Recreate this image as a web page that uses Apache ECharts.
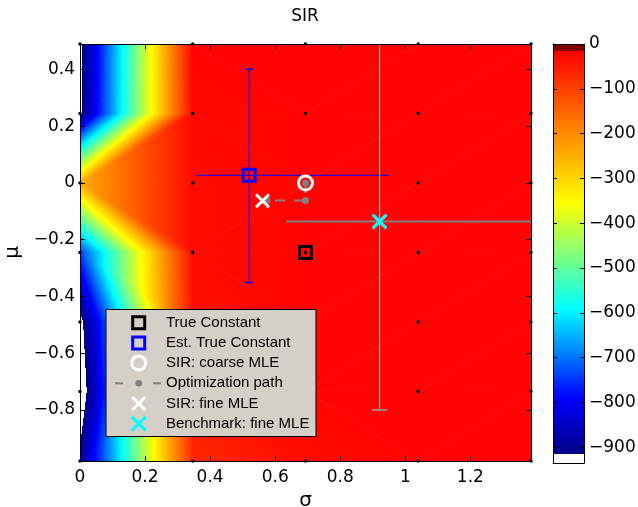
<!DOCTYPE html>
<html><head><meta charset="utf-8">
<script src="https://cdn.jsdelivr.net/npm/echarts@6/dist/echarts.min.js"></script>
<style>html,body{margin:0;padding:0;background:#fff}#c{width:638px;height:507px}</style>
</head><body><div id="c"></div>
<script>
// ---------------- data ----------------
const sigmaNodes = [0, 0.3466, 0.6931, 1.0397, 1.3863];
const muNodes = [0.49, 0.245, 0, -0.245, -0.49, -0.735, -0.98];
// log-likelihood at grid nodes; one row per mu (top to bottom), columns follow sigmaNodes
const logLikMu049  = [-932, -20, -20, -20, -20];
const logLikMu0245 = [-928, -24, -20, -20, -20];
const logLikMu0    = [-245, -28, -20, -20, -20];
const logLikMuM0245= [-745, -28, -20, -20, -20];
const logLikMuM049 = [-940, -38, -20, -20, -20];
const logLikMuM0735= [-970, -50, -20, -20, -20];
const logLikMuM098 = [-900, -70, -30, -20, -20];
const logLik = [logLikMu049, logLikMu0245, logLikMu0, logLikMuM0245, logLikMuM049, logLikMuM0735, logLikMuM098];

const xTicks = [0, 0.2, 0.4, 0.6, 0.8, 1, 1.2];
const yTicks = [-0.8, -0.6, -0.4, -0.2, 0, 0.2, 0.4];
const cbarTicks = [-900, -800, -700, -600, -500, -400, -300, -200, -100, 0];
const cbarMin = -935, cbarMax = 0;

const trueConstant = [0.6931, -0.245];
const estTrueConstant = [0.52, 0.027];
const estSigmaRange = [0.357, 0.951];
const estMuRange = [-0.351, 0.401];
const coarseMLE = [0.6931, 0];
const pathSigma = [0.6931, 0.6931, 0.574];
const pathMu = [0, -0.062, -0.062];
const fineMLE = [0.561, -0.063];
const benchMLE = [0.921, -0.136];
const benchSigmaRange = [0.634, 1.6];
const benchMuRange = [-0.80, 0.6];

const legendLabels = ['True Constant', 'Est. True Constant', 'SIR: coarse MLE', 'Optimization path', 'SIR: fine MLE', 'Benchmark: fine MLE'];

// ---------------- colormap (style) ----------------
const cmapLevels = [-915, -790, -590, -355, -15];
const cmapColors = ['#000085', '#0000ff', '#00ffff', '#ffff00', '#ff0000'];
const underColor = '#ffffff', overColor = '#800000';

function hex2rgb(h) { return [parseInt(h.slice(1,3),16), parseInt(h.slice(3,5),16), parseInt(h.slice(5,7),16)]; }
function colorAt(v) {
  const L = cmapLevels;
  if (v < L[0]) return underColor;
  if (v > L[L.length-1]) return overColor;
  for (let i = 0; i < L.length - 1; i++) {
    if (v >= L[i] && v <= L[i+1]) {
      const t = (v - L[i]) / (L[i+1] - L[i]);
      const a = hex2rgb(cmapColors[i]), b = hex2rgb(cmapColors[i+1]);
      return 'rgb(' + a.map((x, k) => Math.round(x + (b[k] - x) * t)).join(',') + ')';
    }
  }
  return cmapColors[L.length-1];
}
function stopsFor(lo, hi) {
  const L = cmapLevels, n = L.length;
  const t = v => (hi === lo ? 0 : (v - lo) / (hi - lo));
  const s = [{offset: 0, color: colorAt(lo)}];
  for (let i = 0; i < n; i++) {
    const b = L[i];
    if (b > lo && b < hi) {
      if (i === 0) { s.push({offset: t(b), color: underColor}); s.push({offset: t(b), color: cmapColors[0]}); }
      else if (i === n-1) { s.push({offset: t(b), color: cmapColors[n-1]}); s.push({offset: t(b), color: overColor}); }
      else s.push({offset: t(b), color: cmapColors[i]});
    }
  }
  s.push({offset: 1, color: colorAt(hi)});
  return s;
}
function triFill(p, v) {
  const d1x = p[1][0]-p[0][0], d1y = p[1][1]-p[0][1], d2x = p[2][0]-p[0][0], d2y = p[2][1]-p[0][1];
  const dv1 = v[1]-v[0], dv2 = v[2]-v[0];
  const det = d1x*d2y - d1y*d2x;
  const lo = Math.min(...v), hi = Math.max(...v);
  if (Math.abs(det) < 1e-9 || hi - lo < 1e-9) return colorAt((lo+hi)/2);
  const a = (dv1*d2y - dv2*d1y)/det, b = (d1x*dv2 - d2x*dv1)/det;
  const g = Math.hypot(a, b);
  if (g < 1e-12) return colorAt((lo+hi)/2);
  const ux = a/g, uy = b/g, s0 = (lo - v[0])/g, s1 = (hi - v[0])/g;
  return {type: 'linear', x: p[0][0]+ux*s0, y: p[0][1]+uy*s0, x2: p[0][0]+ux*s1, y2: p[0][1]+uy*s1, global: true, colorStops: stopsFor(lo, hi)};
}
// grow a triangle slightly so that neighbours overlap (hides anti-aliasing seams)
function grow(p, e) {
  const cx = (p[0][0]+p[1][0]+p[2][0])/3, cy = (p[0][1]+p[1][1]+p[2][1])/3;
  return p.map(([x, y]) => { const dx = x-cx, dy = y-cy, d = Math.hypot(dx, dy) || 1; return [x + dx/d*e, y + dy/d*e]; });
}

// ---------------- series data built from arrays ----------------
const cells = [];
for (let r = 0; r < muNodes.length - 1; r++)
  for (let c = 0; c < sigmaNodes.length - 1; c++)
    cells.push([sigmaNodes[c], muNodes[r], c, r]);
const nodes = [];
muNodes.forEach(m => sigmaNodes.forEach(s => nodes.push([s, m])));
const pathData = pathSigma.map((s, i) => [s, pathMu[i]]);

function fmt(v) { v = +(+v).toFixed(4); return (v < 0 ? '\u2212' : '') + String(Math.abs(v)); }

const tickFont = {fontFamily: 'DejaVu Sans', fontSize: 17, color: '#000'};

function errRender(st) {
  return function (params, api) {
    const cs = params.coordSys;
    const cx = v => Math.max(cs.x, Math.min(cs.x + cs.width, v));
    const cy = v => Math.max(cs.y, Math.min(cs.y + cs.height, v));
    const inside = p => p[0] >= cs.x - 0.5 && p[0] <= cs.x + cs.width + 0.5 && p[1] >= cs.y - 0.5 && p[1] <= cs.y + cs.height + 0.5;
    const x = api.value(0), y = api.value(1);
    const c = api.coord([x, y]);
    const vlo = api.coord([x, api.value(4)]), vhi = api.coord([x, api.value(5)]);
    const hlo = api.coord([api.value(2), y]), hhi = api.coord([api.value(3), y]);
    const ch = [];
    ch.push({type: 'line', shape: {x1: c[0], y1: cy(vlo[1]), x2: c[0], y2: cy(vhi[1])}, style: {stroke: st.vColor, lineWidth: st.vWidth}});
    ch.push({type: 'line', shape: {x1: cx(hlo[0]), y1: c[1], x2: cx(hhi[0]), y2: c[1]}, style: {stroke: st.hColor, lineWidth: st.hWidth}});
    [vlo, vhi].forEach(p => { if (st.cap > 0 && inside(p)) ch.push({type: 'line', shape: {x1: p[0]-st.cap, y1: p[1], x2: p[0]+st.cap, y2: p[1]}, style: {stroke: st.capColor, lineWidth: st.capWidth}}); });
    return {type: 'group', children: ch};
  };
}

const xPath = 'path://M0,14L14,0L50,36L86,0L100,14L64,50L100,86L86,100L50,64L14,100L0,86L36,50Z';
function xPoly(cx, cy, size) {
  const b = [[0,14],[14,0],[50,36],[86,0],[100,14],[64,50],[100,86],[86,100],[50,64],[14,100],[0,86],[36,50]];
  return b.map(([a, c]) => [cx + (a - 50) * size / 100, cy + (c - 50) * size / 100]);
}

// ---------------- legend graphics ----------------
const lgX = 106, lgY = 309.5, lgW = 210, lgH = 127, rowY0 = 322.7, rowDy = 20.2, iconX = 138.7, textX = 166;
const LZ = 100;
const lg = [{type: 'rect', z: LZ, shape: {x: lgX, y: lgY, width: lgW, height: lgH}, style: {fill: '#d4d0c8', stroke: '#000', lineWidth: 1}}];
const ry = i => rowY0 + i * rowDy;
lg.push({type: 'rect', z: LZ+1, shape: {x: iconX-6, y: ry(0)-6, width: 12, height: 12}, style: {fill: 'none', stroke: '#000', lineWidth: 3}});
lg.push({type: 'rect', z: LZ+1, shape: {x: iconX-6, y: ry(1)-6, width: 12, height: 12}, style: {fill: 'none', stroke: '#0000ff', lineWidth: 3}});
lg.push({type: 'circle', z: LZ+1, shape: {cx: iconX, cy: ry(2), r: 7}, style: {fill: 'none', stroke: '#fff', lineWidth: 3}});
lg.push({type: 'line', z: LZ+1, shape: {x1: 115, y1: ry(3), x2: 123, y2: ry(3)}, style: {stroke: '#808080', lineWidth: 2}});
lg.push({type: 'line', z: LZ+1, shape: {x1: 153, y1: ry(3), x2: 161, y2: ry(3)}, style: {stroke: '#808080', lineWidth: 2}});
lg.push({type: 'circle', z: LZ+1, shape: {cx: iconX, cy: ry(3), r: 3.3}, style: {fill: '#808080'}});
lg.push({type: 'polygon', z: LZ+1, shape: {points: xPoly(iconX, ry(4), 15)}, style: {fill: '#fff'}});
lg.push({type: 'polygon', z: LZ+1, shape: {points: xPoly(iconX, ry(5), 16)}, style: {fill: '#00ffff'}});
legendLabels.forEach((t, i) => lg.push({type: 'text', z: LZ+1, x: textX, y: ry(i), style: {text: t, fill: '#000', font: '15px "Liberation Sans", Arial, sans-serif', verticalAlign: 'middle', align: 'left'}}));

const chart = echarts.init(document.getElementById('c'));
chart.setOption({
  animation: false,
  backgroundColor: '#fff',
  title: {text: 'SIR', left: 305, top: 8, padding: 0, textAlign: 'center', textStyle: {fontFamily: 'DejaVu Sans', fontSize: 17, fontWeight: 'normal', color: '#000'}},
  grid: [
    {left: 80, top: 44, width: 451, height: 417, outerBoundsMode: 'none', containLabel: false},
    {left: 553, top: 44, width: 31, height: 419, outerBoundsMode: 'none', containLabel: false}
  ],
  xAxis: [
    {gridIndex: 0, type: 'value', min: 0, max: 1.3863, position: 'bottom', z: 5,
     name: 'σ', nameLocation: 'middle', nameGap: 26, nameTextStyle: {fontFamily: 'DejaVu Sans', fontSize: 20, color: '#000'},
     axisLine: {onZero: false, lineStyle: {color: '#000', width: 1}},
     axisTick: {inside: true, length: 5, customValues: xTicks, lineStyle: {color: '#000'}},
     axisLabel: {customValues: xTicks, formatter: fmt, margin: 8, ...tickFont},
     splitLine: {show: false}},
    {gridIndex: 0, type: 'value', min: 0, max: 1.3863, position: 'top', z: 5,
     axisLine: {onZero: false, lineStyle: {color: '#000', width: 1}},
     axisTick: {inside: true, length: 5, customValues: xTicks, lineStyle: {color: '#000'}},
     axisLabel: {show: false}, splitLine: {show: false}},
    {gridIndex: 1, type: 'value', min: 0, max: 1, position: 'bottom', z: 5,
     axisLine: {onZero: false, lineStyle: {color: '#000', width: 1}}, axisTick: {show: false}, axisLabel: {show: false}, splitLine: {show: false}},
    {gridIndex: 1, type: 'value', min: 0, max: 1, position: 'top', z: 5,
     axisLine: {onZero: false, lineStyle: {color: '#000', width: 1}}, axisTick: {show: false}, axisLabel: {show: false}, splitLine: {show: false}}
  ],
  yAxis: [
    {gridIndex: 0, type: 'value', min: -0.98, max: 0.49, position: 'left', z: 5,
     name: 'μ', nameLocation: 'middle', nameGap: 52, nameTextStyle: {fontFamily: 'DejaVu Sans', fontSize: 20, color: '#000'},
     axisLine: {onZero: false, lineStyle: {color: '#000', width: 1}},
     axisTick: {inside: true, length: 5, customValues: yTicks, lineStyle: {color: '#000'}},
     axisLabel: {customValues: yTicks, formatter: fmt, margin: 5, ...tickFont},
     splitLine: {show: false}},
    {gridIndex: 0, type: 'value', min: -0.98, max: 0.49, position: 'right', z: 5,
     axisLine: {onZero: false, lineStyle: {color: '#000', width: 1}},
     axisTick: {inside: true, length: 5, customValues: yTicks, lineStyle: {color: '#000'}},
     axisLabel: {show: false}, splitLine: {show: false}},
    {gridIndex: 1, type: 'value', min: cbarMin, max: cbarMax, position: 'right', z: 5,
     axisLine: {onZero: false, lineStyle: {color: '#000', width: 1}},
     axisTick: {inside: true, length: 4, customValues: cbarTicks, lineStyle: {color: '#000'}},
     axisLabel: {customValues: cbarTicks, formatter: fmt, margin: 5, ...tickFont},
     splitLine: {show: false}},
    {gridIndex: 1, type: 'value', min: cbarMin, max: cbarMax, position: 'left', z: 5,
     axisLine: {onZero: false, lineStyle: {color: '#000', width: 1}},
     axisTick: {inside: true, length: 4, customValues: cbarTicks, lineStyle: {color: '#000'}},
     axisLabel: {show: false}, splitLine: {show: false}}
  ],
  series: [
    {type: 'custom', name: 'field', xAxisIndex: 0, yAxisIndex: 0, z: 1, clip: true, silent: true,
     data: cells, encode: {x: 0, y: 1},
     renderItem: function (params, api) {
       const c = api.value(2), r = api.value(3);
       const corners = [[c, r], [c+1, r], [c+1, r+1], [c, r+1]];
       const pts = corners.map(([ci, ri]) => api.coord([sigmaNodes[ci], muNodes[ri]]));
       const vals = corners.map(([ci, ri]) => logLik[ri][ci]);
       const m = vals.reduce((s, x) => s + x, 0) / 4;
       let k = 0;
       for (let i = 1; i < 4; i++) if (Math.abs(vals[i] - m) > Math.abs(vals[k] - m)) k = i;
       const d1 = (k + 1) % 4, d2 = (k + 3) % 4;
       const tris = [[k, d1, d2], [(k + 2) % 4, d1, d2]];
       return {type: 'group', children: tris.map(t => {
         const p = t.map(i => pts[i]), v = t.map(i => vals[i]);
         const f = triFill(p, v);
         return {type: 'polygon', shape: {points: grow(p, 0.8)}, style: {fill: f}};
       })};
     }},
    {type: 'custom', name: 'colorbar', xAxisIndex: 2, yAxisIndex: 2, z: 1, silent: true,
     data: [[0.5, cbarMin]], encode: {x: 0, y: 1},
     renderItem: function (params, api) {
       const tl = api.coord([0, cbarMax]), br = api.coord([1, cbarMin]);
       const fill = {type: 'linear', x: 0, y: br[1], x2: 0, y2: tl[1], global: true, colorStops: stopsFor(cbarMin, cbarMax)};
       return {type: 'rect', shape: {x: tl[0], y: tl[1], width: br[0] - tl[0], height: br[1] - tl[1]}, style: {fill: fill}};
     }},
    {type: 'scatter', name: 'grid', xAxisIndex: 0, yAxisIndex: 0, z: 3, clip: false, silent: true,
     data: nodes, symbol: 'circle', symbolSize: 3.5, itemStyle: {color: '#000', opacity: 1}},
    {type: 'custom', name: 'Est. error', xAxisIndex: 0, yAxisIndex: 0, z: 3, silent: true,
     data: [[estTrueConstant[0], estTrueConstant[1], estSigmaRange[0], estSigmaRange[1], estMuRange[0], estMuRange[1]]],
     encode: {x: 0, y: 1},
     renderItem: errRender({vColor: '#0000ff', vWidth: 1, hColor: '#0000ff', hWidth: 1, cap: 4, capColor: '#0000ff', capWidth: 1.5})},
    {type: 'custom', name: 'Benchmark error', xAxisIndex: 0, yAxisIndex: 0, z: 3, silent: true,
     data: [[benchMLE[0], benchMLE[1], benchSigmaRange[0], benchSigmaRange[1], benchMuRange[0], benchMuRange[1]]],
     encode: {x: 0, y: 1},
     renderItem: errRender({vColor: '#96d8d8', vWidth: 1, hColor: '#808080', hWidth: 2, cap: 7.5, capColor: '#8aa6a6', capWidth: 1.5})},
    {type: 'scatter', name: 'True Constant', xAxisIndex: 0, yAxisIndex: 0, z: 4, silent: true,
     data: [trueConstant], symbol: 'rect', symbolSize: 12,
     itemStyle: {color: 'rgba(0,0,0,0)', borderColor: '#000', borderWidth: 3, opacity: 1}},
    {type: 'scatter', name: 'Est. True Constant', xAxisIndex: 0, yAxisIndex: 0, z: 4, silent: true,
     data: [estTrueConstant], symbol: 'rect', symbolSize: 12,
     itemStyle: {color: 'rgba(0,0,0,0)', borderColor: '#0000ff', borderWidth: 3, opacity: 1}},
    {type: 'scatter', name: 'SIR: coarse MLE', xAxisIndex: 0, yAxisIndex: 0, z: 4, silent: true,
     data: [coarseMLE], symbol: 'circle', symbolSize: 14,
     itemStyle: {color: 'rgba(0,0,0,0)', borderColor: '#fff', borderWidth: 3, opacity: 1}},
    {type: 'line', name: 'Optimization path', xAxisIndex: 0, yAxisIndex: 0, z: 4, silent: true,
     data: pathData, symbol: 'circle', symbolSize: 7, showSymbol: true,
     itemStyle: {color: '#808080', opacity: 1}, lineStyle: {color: '#808080', width: 2, type: [10, 9]}},
    {type: 'scatter', name: 'SIR: fine MLE', xAxisIndex: 0, yAxisIndex: 0, z: 4, silent: true,
     data: [fineMLE], symbol: xPath, symbolSize: 15, itemStyle: {color: '#fff', opacity: 1}},
    {type: 'scatter', name: 'Benchmark: fine MLE', xAxisIndex: 0, yAxisIndex: 0, z: 4, silent: true,
     data: [benchMLE], symbol: xPath, symbolSize: 16, itemStyle: {color: '#00ffff', opacity: 1}}
  ],
  graphic: {elements: [{type: 'group', z: LZ, children: lg}]}
});
</script>
</body></html>
